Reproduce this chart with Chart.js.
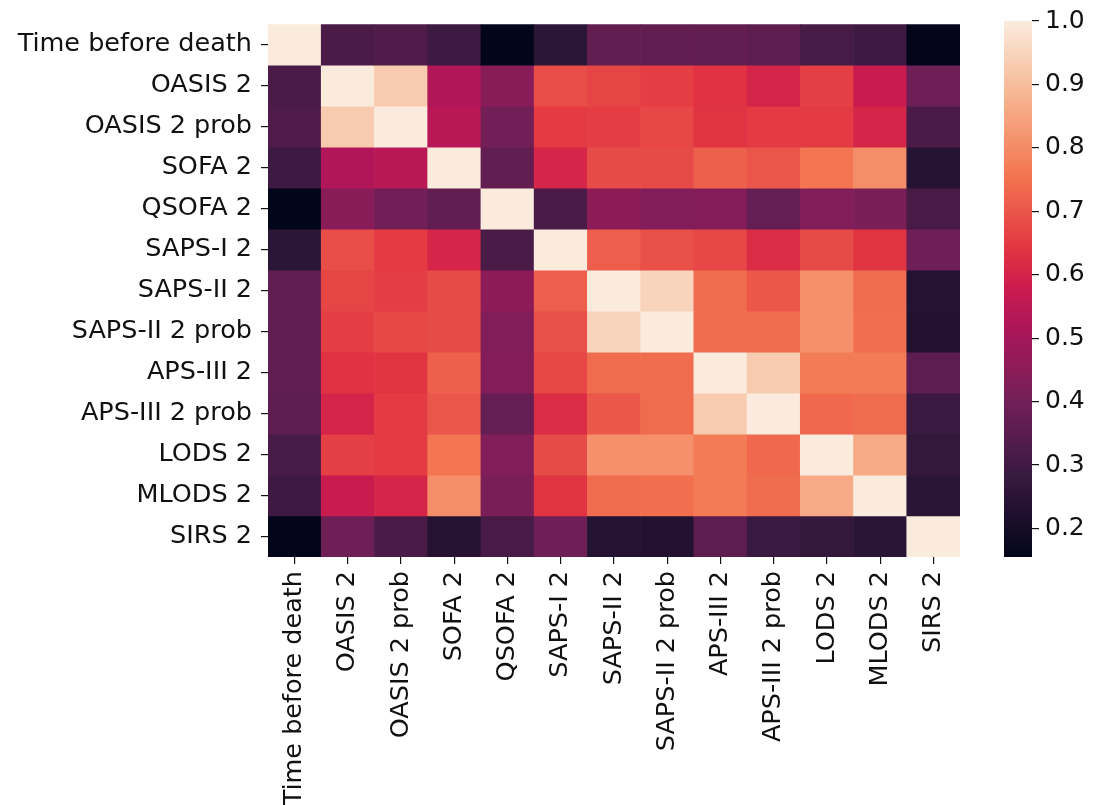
<!DOCTYPE html>
<html>
<head>
<meta charset="utf-8">
<script src="https://cdn.jsdelivr.net/npm/chart.js@4/dist/chart.umd.min.js"></script>
<style>
  html, body { margin: 0; padding: 0; background: #ffffff; }
  #wrap { position: relative; width: 1096px; height: 805px; }
  #heat { position: absolute; left: 0; top: 0; }
  #cbar { position: absolute; left: 990px; top: 0; }
</style>
</head>
<body>
<div id="wrap">
  <canvas id="heat" width="1096" height="805"></canvas>
  <canvas id="cbar" width="106" height="805"></canvas>
</div>
<script>
// Variable names (rows and columns of the correlation matrix)
const categories = [
  'Time before death', 'OASIS 2', 'OASIS 2 prob', 'SOFA 2', 'QSOFA 2',
  'SAPS-I 2', 'SAPS-II 2', 'SAPS-II 2 prob', 'APS-III 2', 'APS-III 2 prob',
  'LODS 2', 'MLODS 2', 'SIRS 2'
];

// Pairwise correlations, one row per variable
const timeBeforeDeath = [1.00, 0.32, 0.33, 0.29, 0.155, 0.255, 0.37, 0.37, 0.37, 0.36, 0.31, 0.295, 0.158];
const oasis2          = [0.32, 1.00, 0.93, 0.525, 0.445, 0.685, 0.67, 0.655, 0.635, 0.60, 0.66, 0.575, 0.39];
const oasis2Prob      = [0.33, 0.93, 1.00, 0.54, 0.40, 0.65, 0.655, 0.675, 0.64, 0.65, 0.65, 0.605, 0.32];
const sofa2           = [0.29, 0.525, 0.54, 1.00, 0.37, 0.605, 0.68, 0.68, 0.72, 0.70, 0.757, 0.805, 0.24];
const qsofa2          = [0.155, 0.445, 0.40, 0.37, 1.00, 0.32, 0.455, 0.43, 0.435, 0.375, 0.43, 0.415, 0.315];
const sapsI2          = [0.255, 0.685, 0.65, 0.605, 0.32, 1.00, 0.715, 0.69, 0.675, 0.62, 0.68, 0.64, 0.39];
const sapsII2         = [0.37, 0.67, 0.655, 0.68, 0.455, 0.715, 1.00, 0.95, 0.74, 0.705, 0.81, 0.74, 0.235];
const sapsII2Prob     = [0.37, 0.655, 0.675, 0.68, 0.43, 0.69, 0.95, 1.00, 0.74, 0.74, 0.81, 0.745, 0.23];
const apsIII2         = [0.37, 0.635, 0.64, 0.72, 0.435, 0.675, 0.74, 0.74, 1.00, 0.93, 0.77, 0.77, 0.36];
const apsIII2Prob     = [0.36, 0.60, 0.65, 0.70, 0.375, 0.62, 0.705, 0.74, 0.93, 1.00, 0.735, 0.74, 0.285];
const lods2           = [0.31, 0.66, 0.65, 0.757, 0.43, 0.68, 0.81, 0.81, 0.77, 0.735, 1.00, 0.86, 0.27];
const mlods2          = [0.295, 0.575, 0.605, 0.805, 0.415, 0.64, 0.74, 0.745, 0.77, 0.74, 0.86, 1.00, 0.25];
const sirs2           = [0.158, 0.39, 0.32, 0.24, 0.315, 0.39, 0.235, 0.23, 0.36, 0.285, 0.27, 0.25, 1.00];

const matrix = [timeBeforeDeath, oasis2, oasis2Prob, sofa2, qsofa2, sapsI2, sapsII2,
                sapsII2Prob, apsIII2, apsIII2Prob, lods2, mlods2, sirs2];

// Colour bar range and ticks
const colorMin = 0.155;
const colorMax = 1.0;
const cbarTicks = [0.2, 0.3, 0.4, 0.5, 0.6, 0.7, 0.8, 0.9, 1.0];

// "rocket" colormap anchor points
const rocketStops = [
  [0.000, [3, 5, 26]],
  [0.143, [53, 25, 62]],
  [0.286, [112, 31, 87]],
  [0.429, [173, 23, 89]],
  [0.500, [203, 27, 79]],
  [0.571, [225, 51, 66]],
  [0.714, [243, 118, 81]],
  [0.857, [246, 180, 143]],
  [1.000, [250, 235, 221]]
];

function rocket(t) {
  t = Math.max(0, Math.min(1, t));
  for (let i = 1; i < rocketStops.length; i++) {
    const [t1, c1] = rocketStops[i];
    const [t0, c0] = rocketStops[i - 1];
    if (t <= t1) {
      const f = (t - t0) / (t1 - t0);
      const c = c0.map((v, k) => Math.round(v + (c1[k] - v) * f));
      return `rgb(${c[0]},${c[1]},${c[2]})`;
    }
  }
  return 'rgb(250,235,221)';
}
const colorFor = v => rocket((v - colorMin) / (colorMax - colorMin));

const FONT = { family: "'DejaVu Sans', sans-serif", size: 25.5 };
const CBAR_FONT = { family: "'DejaVu Sans', sans-serif", size: 25 };
const INK = '#111111';

// One floating-bar dataset per matrix row; each bar spans one row band
const datasets = matrix.map((row, r) => ({
  data: row.map((v, c) => ({ x: categories[c], y: [r - 0.5, r + 0.5], v })),
  backgroundColor: row.map(v => colorFor(v)),
  borderWidth: 0,
  barPercentage: 1,
  categoryPercentage: 1,
  grouped: false
}));

new Chart(document.getElementById('heat'), {
  type: 'bar',
  data: { labels: categories, datasets },
  options: {
    responsive: false,
    animation: false,
    layout: { padding: { left: 0, right: 136, top: 17, bottom: 0 } },
    plugins: { legend: { display: false }, tooltip: { enabled: false } },
    scales: {
      x: {
        type: 'category',
        labels: categories,
        offset: true,
        border: { display: false },
        grid: { offset: false, drawOnChartArea: false, drawTicks: true, tickLength: 7, color: INK, lineWidth: 1.2 },
        ticks: { font: FONT, color: INK, minRotation: 90, maxRotation: 90, autoSkip: false, padding: 7 },
        afterFit: s => { s.height = 248; }
      },
      y: {
        type: 'linear',
        reverse: true,
        min: -0.5,
        max: categories.length - 0.5,
        border: { display: false },
        grid: { drawOnChartArea: false, drawTicks: true, tickLength: 7, color: INK, lineWidth: 1.2 },
        afterBuildTicks: s => { s.ticks = categories.map((_, i) => ({ value: i })); },
        ticks: { font: FONT, color: INK, autoSkip: false, padding: 9, callback: v => categories[v] },
        afterFit: s => { s.width = 268; }
      }
    }
  }
});

// Colour bar
new Chart(document.getElementById('cbar'), {
  type: 'bar',
  data: {
    labels: ['scale'],
    datasets: [{
      data: [[colorMin, colorMax]],
      barPercentage: 1,
      categoryPercentage: 1,
      borderWidth: 0,
      backgroundColor: ctx => {
        const area = ctx.chart.chartArea;
        if (!area) return 'rgba(0,0,0,0)';
        const g = ctx.chart.ctx.createLinearGradient(0, area.bottom, 0, area.top);
        for (let i = 0; i <= 64; i++) g.addColorStop(i / 64, rocket(i / 64));
        return g;
      }
    }]
  },
  options: {
    responsive: false,
    animation: false,
    layout: { padding: { left: 14, right: 0, top: 17, bottom: 248 } },
    plugins: { legend: { display: false }, tooltip: { enabled: false } },
    scales: {
      x: { display: false },
      y: {
        position: 'right',
        min: colorMin,
        max: colorMax,
        border: { display: false },
        grid: { drawOnChartArea: false, drawTicks: true, tickLength: 7, color: INK, lineWidth: 1.2 },
        afterBuildTicks: s => { s.ticks = cbarTicks.map(v => ({ value: v })); },
        ticks: { font: CBAR_FONT, color: INK, padding: 6, callback: v => v.toFixed(1) },
        afterFit: s => { s.width = 64; }
      }
    }
  }
});
</script>
</body>
</html>
